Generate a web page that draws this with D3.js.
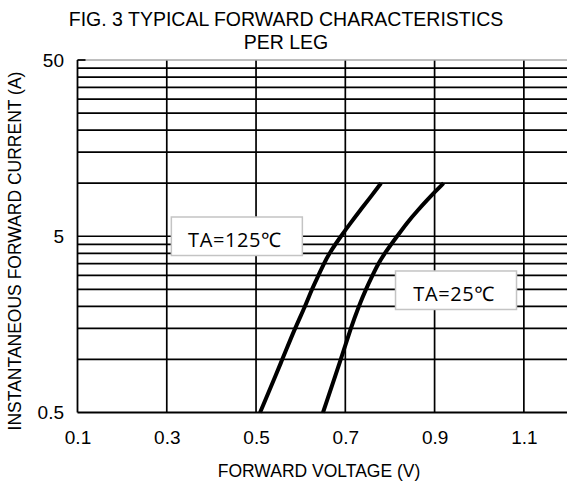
<!DOCTYPE html>
<html>
<head>
<meta charset="utf-8">
<script src="https://cdn.jsdelivr.net/npm/d3@7"></script>
<style>
  body { margin: 0; background: #fff; }
  svg { display: block; }
</style>
</head>
<body>
<div id="container"></div>
<script>
// axis ticks and log grid (labels follow the sheet: 0.5 / 5 / 50)
const voltTicks = [0.1, 0.3, 0.5, 0.7, 0.9, 1.1];
const currentTicks = [0.5, 5, 50];
const currentGrid = [1, 1.5, 2, 2.5, 3, 3.5, 4, 4.5, 5, 10, 15, 20, 25, 30, 35, 40, 45];

// TA = 125 C curve
const current125 = [0.5, 1, 1.5, 2, 2.5, 3, 3.5, 4, 5, 6, 7, 8, 10];
const volt125 = [0.509, 0.559, 0.587, 0.61, 0.625, 0.64, 0.652, 0.664, 0.69, 0.713, 0.733, 0.751, 0.78];

// TA = 25 C curve
const current25 = [0.5, 1, 1.5, 2, 2.5, 3, 3.5, 4, 5, 6, 7, 8, 9, 10];
const volt25 = [0.65, 0.69, 0.712, 0.73, 0.746, 0.761, 0.774, 0.788, 0.816, 0.839, 0.862, 0.883, 0.902, 0.92];

// curve labels, anchored in data units
const labelText = ["TA=125\u2103", "TA=25\u2103"];
const labelVolt = [0.457, 0.948];
const labelCurrent = [5, 2.47];

const w = 567;
const h = 482;
const marginLeft = 77.5;
const marginTop = 60;
const plotW = 491;
const plotH = 352.5;

const x = d3.scaleLinear().domain([0.1, 1.2]).range([marginLeft, marginLeft + plotW]);
const y = d3.scaleLog().domain([0.5, 50]).range([marginTop + plotH, marginTop]);

const svg = d3
  .select("#container")
  .append("svg")
  .attr("width", w)
  .attr("height", h)
  .style("font-family", "'Liberation Sans', Arial, sans-serif");

// title
svg
  .append("text")
  .attr("x", 286)
  .attr("y", 25.5)
  .attr("text-anchor", "middle")
  .style("font-size", "19.5px")
  .text("FIG. 3 TYPICAL FORWARD CHARACTERISTICS");

svg
  .append("text")
  .attr("x", 286)
  .attr("y", 48.5)
  .attr("text-anchor", "middle")
  .style("font-size", "19.5px")
  .text("PER LEG");

// horizontal grid
svg
  .append("g")
  .selectAll("line")
  .data(currentGrid)
  .enter()
  .append("line")
  .attr("x1", marginLeft)
  .attr("x2", w)
  .attr("y1", (d) => y(d))
  .attr("y2", (d) => y(d))
  .attr("stroke", "#000")
  .attr("stroke-width", 1.7);

// vertical grid
svg
  .append("g")
  .selectAll("line")
  .data(voltTicks.slice(1))
  .enter()
  .append("line")
  .attr("x1", (d) => x(d))
  .attr("x2", (d) => x(d))
  .attr("y1", marginTop)
  .attr("y2", marginTop + plotH)
  .attr("stroke", "#000")
  .attr("stroke-width", 1.7);

// top border is lighter on the sheet
svg
  .append("line")
  .attr("x1", marginLeft)
  .attr("x2", w)
  .attr("y1", y(50))
  .attr("y2", y(50))
  .attr("stroke", "#a8a8a8")
  .attr("stroke-width", 1.6);

// axes: labels from d3, frame drawn as lines
const xAxis = svg
  .append("g")
  .attr("transform", "translate(0," + (marginTop + plotH) + ")")
  .call(d3.axisBottom(x).tickValues(voltTicks).tickSize(0).tickPadding(18).tickFormat(d3.format(".1f")));

const yAxis = svg
  .append("g")
  .attr("transform", "translate(" + marginLeft + ",0)")
  .call(d3.axisLeft(y).tickValues(currentTicks).tickSize(0).tickPadding(13.5).tickFormat((d) => d));

[xAxis, yAxis].forEach((g) => {
  g.select(".domain").remove();
  g.selectAll("text")
    .style("font-size", "19px")
    .style("font-family", "'Liberation Sans', Arial, sans-serif")
    .attr("fill", "#000");
});

svg
  .append("line")
  .attr("x1", marginLeft)
  .attr("x2", w)
  .attr("y1", y(0.5))
  .attr("y2", y(0.5))
  .attr("stroke", "#000")
  .attr("stroke-width", 1.8);

svg
  .append("line")
  .attr("x1", marginLeft)
  .attr("x2", marginLeft)
  .attr("y1", y(50))
  .attr("y2", y(0.5))
  .attr("stroke", "#000")
  .attr("stroke-width", 1.8);

svg
  .append("line")
  .attr("x1", marginLeft)
  .attr("x2", marginLeft + 8)
  .attr("y1", y(50))
  .attr("y2", y(50))
  .attr("stroke", "#000")
  .attr("stroke-width", 1.7);

// axis titles
svg
  .append("text")
  .attr("x", 319)
  .attr("y", 476.5)
  .attr("text-anchor", "middle")
  .style("font-size", "17.5px")
  .text("FORWARD VOLTAGE (V)");

svg
  .append("text")
  .attr("transform", "translate(21," + 251 + ") rotate(-90)")
  .attr("text-anchor", "middle")
  .style("font-size", "17.5px")
  .text("INSTANTANEOUS FORWARD CURRENT (A)");

// curves (basis smooths out the read-off wobble)
const line = d3
  .line()
  .x((d) => x(d[0]))
  .y((d) => y(d[1]))
  .curve(d3.curveBasis);

const series = [
  volt125.map((v, i) => [v, current125[i]]),
  volt25.map((v, i) => [v, current25[i]]),
];

svg
  .append("g")
  .selectAll("path")
  .data(series)
  .enter()
  .append("path")
  .attr("d", line)
  .attr("fill", "none")
  .attr("stroke", "#000")
  .attr("stroke-width", 4)
  .attr("stroke-linecap", "butt");

// labels in boxes
const boxW = [131, 121];
const boxH = 38.5;

const labels = svg
  .append("g")
  .selectAll("g")
  .data(labelText)
  .enter()
  .append("g")
  .attr("transform", (d, i) => "translate(" + x(labelVolt[i]) + "," + y(labelCurrent[i]) + ")");

labels
  .append("rect")
  .attr("x", (d, i) => -boxW[i] / 2)
  .attr("y", -boxH / 2)
  .attr("width", (d, i) => boxW[i])
  .attr("height", boxH)
  .attr("fill", "#fff")
  .attr("stroke", "#c4c4c4")
  .attr("stroke-width", 1.5);

labels
  .append("text")
  .attr("x", -2)
  .attr("y", 10.3)
  .attr("text-anchor", "middle")
  .style("font-family", "'Open Sans', 'Noto Sans', sans-serif")
  .style("font-size", "20px")
  .style("letter-spacing", "0.6px")
  .text((d) => d);
</script>
</body>
</html>
